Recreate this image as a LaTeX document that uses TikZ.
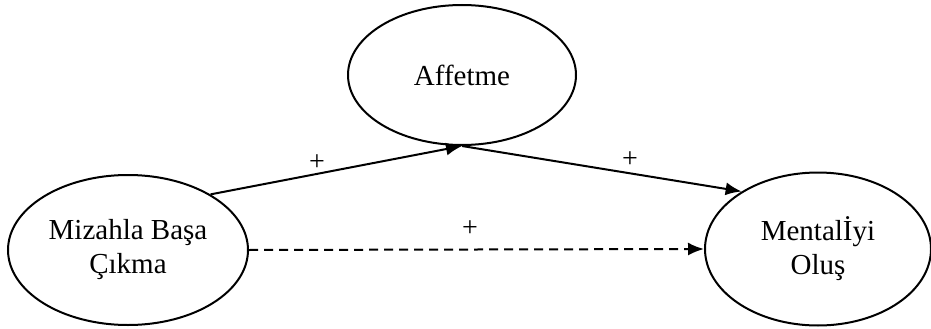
\documentclass[tikz,border=0pt]{standalone}
\usepackage{fontspec}
\setmainfont{Liberation Serif}
\usetikzlibrary{shapes.geometric,arrows.meta}
\begin{document}
\begin{tikzpicture}[x=1pt,y=-1pt,
  var/.style={draw,ellipse,line width=2pt,minimum width=#1,inner sep=0pt,align=center,font=\fontsize{29}{34}\selectfont},
  conn/.style={line width=2pt,-{Latex[length=16pt,width=13pt]}},
  sign/.style={font=\fontsize{28}{30}\selectfont,inner sep=0pt}]
\useasboundingbox (0,0) rectangle (931,329);
\node[var=240pt,minimum height=150pt] (mb) at (128,250) {Mizahla Başa\\Çıkma};
\node[var=226pt,minimum height=153pt] (mi) at (818,249) {Mentalİyi\\Oluş};
\node[var=228pt,minimum height=140pt] (af) at (462,75) {Affetme};
\draw[conn] (mb.34) -- (af.south);
\draw[conn] (af.south) -- (mi.143);
\draw[conn,dashed,dash pattern=on 9pt off 6pt] (mb.east) -- (mi.west);
\node[sign] (p1) at (317,163) {+};
\node[sign] (p2) at (630,160) {+};
\node[sign] (p3) at (470,229) {+};
\end{tikzpicture}
\end{document}
